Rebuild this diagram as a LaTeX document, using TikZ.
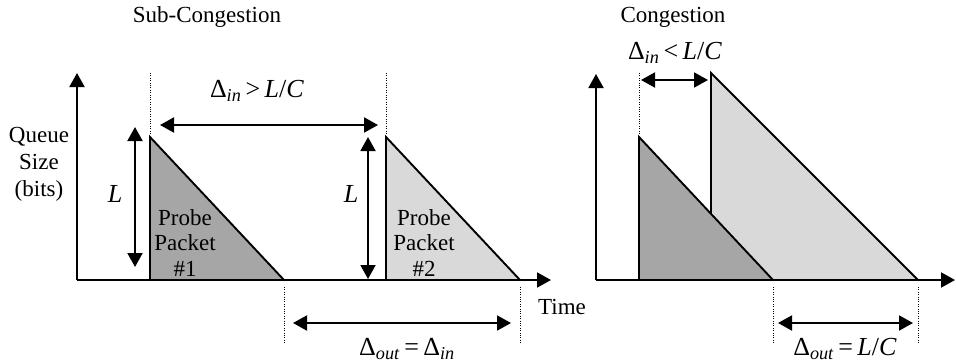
\RequirePackage{fix-cm}
\documentclass[tikz,border=0pt]{standalone}
\usepackage{fontspec}
\setmainfont{Liberation Serif}
\usetikzlibrary{arrows.meta}
\definecolor{pdark}{HTML}{A6A6A6}
\definecolor{plight}{HTML}{D9D9D9}
\newcommand{\dlt}[1]{Δ\textsubscript{\textit{#1}}}
\begin{document}
\begin{tikzpicture}[x=1pt,y=-1pt,
  ln/.style={line width=1.9pt},
  arr/.style={ln,-{Triangle[length=14pt,width=15pt]}},
  darr/.style={ln,{Triangle[length=14pt,width=15pt]}-{Triangle[length=14pt,width=15pt]}},
  dots/.style={line width=1pt,dash pattern=on 1pt off 1.4pt},
  lbl/.style={font=\fontsize{23}{28}\selectfont, inner sep=0pt},
  mlbl/.style={font=\fontsize{26}{30}\selectfont, inner sep=0pt},
  tri/.style={draw=black,line width=1.9pt,line join=miter}]
\useasboundingbox (0,0) rectangle (956,364);
% ---------- coordinates, left panel
\coordinate (O1) at (77,280);
\coordinate (Y1) at (77,73);
\coordinate (T1) at (551,280);
\coordinate (a1t) at (150,137); \coordinate (a1b) at (150,280); \coordinate (a1r) at (284,280);
\coordinate (b1t) at (386,137); \coordinate (b1b) at (386,280); \coordinate (b1r) at (520,280);
\coordinate (d1u) at (150,73); \coordinate (d1l) at (150,134);
\coordinate (d2u) at (386,73); \coordinate (d2l) at (386,134);
\coordinate (din1a) at (160,125); \coordinate (din1b) at (378,125);
\coordinate (L1a) at (135,127); \coordinate (L1b) at (135,267);
\coordinate (L2a) at (368,137); \coordinate (L2b) at (368,279);
\coordinate (e1u) at (284,287); \coordinate (e1l) at (284,343);
\coordinate (e2u) at (520,287); \coordinate (e2l) at (520,343);
\coordinate (dout1a) at (293,323); \coordinate (dout1b) at (511,323);
% ---------- coordinates, right panel
\coordinate (O2) at (596,280);
\coordinate (Y2) at (596,74);
\coordinate (T2) at (955,280);
\coordinate (a2t) at (639,137); \coordinate (a2b) at (639,280); \coordinate (a2r) at (773,280);
\coordinate (b2t) at (711,73); \coordinate (b2b) at (711,280); \coordinate (b2r) at (918,280);
\coordinate (d3u) at (639,73); \coordinate (d3l) at (639,134);
\coordinate (din2a) at (641,80); \coordinate (din2b) at (708,80);
\coordinate (e3u) at (773,287); \coordinate (e3l) at (773,343);
\coordinate (e4u) at (918,287); \coordinate (e4l) at (918,343);
\coordinate (dout2a) at (778,323); \coordinate (dout2b) at (913,323);
% ---------- left panel shapes
\fill[pdark] (a1t) -- (a1b) -- (a1r) -- cycle;
\draw[tri] (a1b) -- (a1t) -- (a1r);
\fill[plight] (b1t) -- (b1b) -- (b1r) -- cycle;
\draw[tri] (b1b) -- (b1t) -- (b1r);
\draw[arr] (O1) -- (Y1);
\draw[arr] (O1) -- (T1);
\draw[dots] (d1u) -- (d1l);
\draw[dots] (d2u) -- (d2l);
\draw[darr] (din1a) -- (din1b);
\draw[darr] (L1a) -- (L1b);
\draw[darr] (L2a) -- (L2b);
\draw[dots] (e1u) -- (e1l);
\draw[dots] (e2u) -- (e2l);
\draw[darr] (dout1a) -- (dout1b);
% ---------- right panel shapes
\fill[plight] (b2t) -- (b2b) -- (b2r) -- cycle;
\draw[tri] (b2b) -- (b2t) -- (b2r);
\fill[pdark] (a2t) -- (a2b) -- (a2r) -- cycle;
\draw[tri] (a2b) -- (a2t) -- (a2r);
\draw[arr] (O2) -- (Y2);
\draw[arr] (O2) -- (T2);
\draw[dots] (d3u) -- (d3l);
\draw[darr] (din2a) -- (din2b);
\draw[dots] (e3u) -- (e3l);
\draw[dots] (e4u) -- (e4l);
\draw[darr] (dout2a) -- (dout2b);
% ---------- labels
\node[lbl] (t1) at (207,17) {Sub-Congestion};
\node[lbl] (t2) at (673,17) {Congestion};
\node[lbl,align=center,font=\fontsize{23}{27}\selectfont] (qs) at (39,164) {Queue\\Size\\(bits)};
\node[mlbl] (l1) at (115,194) {\textit{L}};
\node[mlbl] (l2) at (351,194) {\textit{L}};
\node[lbl,align=center,font=\fontsize{23}{25.5}\selectfont] (p1) at (185,243) {Probe\\Packet\\\#1};
\node[lbl,align=center,font=\fontsize{23}{25.5}\selectfont] (p2) at (424,243) {Probe\\Packet\\\#2};
\node[lbl] (tm) at (562,307) {Time};
\node[mlbl] (m1) at (257,91) {\dlt{in}\,>\,\textit{L}/\textit{C}};
\node[mlbl] (m2) at (407,349) {\dlt{out}\,=\,\dlt{in}};
\node[mlbl] (m3) at (675,53) {\dlt{in}\,<\,\textit{L}/\textit{C}};
\node[mlbl] (m4) at (845,349) {\dlt{out}\,=\,\textit{L}/\textit{C}};
\end{tikzpicture}
\end{document}
